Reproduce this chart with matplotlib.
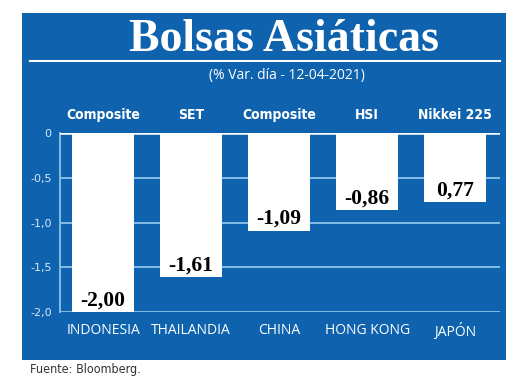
import matplotlib
matplotlib.use("Agg")
import matplotlib.pyplot as plt
from matplotlib.patches import Rectangle
from matplotlib.lines import Line2D

paises = ["INDONESIA", "THAILANDIA", "CHINA", "HONG KONG", "JAPÓN"]
indices = ["Composite", "SET", "Composite", "HSI", "Nikkei 225"]
# la barra de Japón se dibuja hacia abajo como en el original
valores = [-2.00, -1.61, -1.09, -0.86, -0.77]
etiquetas = ["-2,00", "-1,61", "-1,09", "-0,86", "0,77"]
yticks = [0, -0.5, -1.0, -1.5, -2.0]
ytick_labels = ["0", "-0,5", "-1,0", "-1,5", "-2,0"]

azul = "#0f63ae"
celeste = "#8ec3ec"

fig = plt.figure(figsize=(5.2, 3.88), dpi=100)
fig.patch.set_facecolor("white")
fig.patches.append(Rectangle((22 / 520, 28 / 388), 484 / 520, 347 / 388,
                             transform=fig.transFigure, facecolor=azul,
                             edgecolor="none", zorder=-10))
fig.lines.append(Line2D([30 / 520, 500 / 520], [1 - 61 / 388, 1 - 61 / 388],
                        transform=fig.transFigure, color="white", lw=1.5))

fig.text(284 / 520, 1 - 40 / 388, "Bolsas Asiáticas", ha="center", va="center",
         color="white", fontsize=33, fontweight="bold", family="Liberation Serif")
fig.text(287 / 520, 1 - 75 / 388, "(% Var. día - 12-04-2021)", ha="center",
         va="center", color="white", fontsize=10, family="Open Sans")
fig.text(30 / 520, 1 - 370 / 388, "Fuente: Bloomberg.", ha="left", va="center",
         color="#333333", fontsize=9, family="DejaVu Sans", fontstretch="condensed")

ax = fig.add_axes([60 / 520, 76 / 388, 440 / 520, 179 / 388])
ax.set_facecolor("none")
x = list(range(len(valores)))
ax.bar(x, valores, width=0.71, color="white", zorder=3)
ax.set_xlim(-0.49, 4.51)
ax.set_ylim(-2.0, 0)

ax.set_yticks(yticks)
ax.set_yticklabels(ytick_labels)
ax.yaxis.grid(True, color=celeste, lw=1.3, zorder=1)
ax.set_axisbelow(True)
ax.axhline(0, color="white", lw=1.8, zorder=4)
ax.set_xticks(x)
ax.set_xticklabels(paises, family="Open Sans", fontsize=10, color="white")
ax.tick_params(axis="x", length=0, pad=8)
ax.tick_params(axis="y", length=0, pad=6, labelsize=8, labelcolor="#d6e8f7")
for s in ["top", "right", "bottom"]:
    ax.spines[s].set_visible(False)
ax.spines["left"].set_color(celeste)
ax.spines["left"].set_linewidth(1.3)

for i in x:
    ax.text(i, valores[i] + 0.13, etiquetas[i], ha="center", va="center",
            color="black", fontsize=15.5, fontweight="bold",
            family="Liberation Serif", zorder=5)
    ax.text(i, 0.2, indices[i], ha="center", va="center", color="white",
            fontsize=10, fontweight="bold", family="DejaVu Sans",
            fontstretch="condensed", clip_on=False)

fig.savefig("out.png", dpi=100)
